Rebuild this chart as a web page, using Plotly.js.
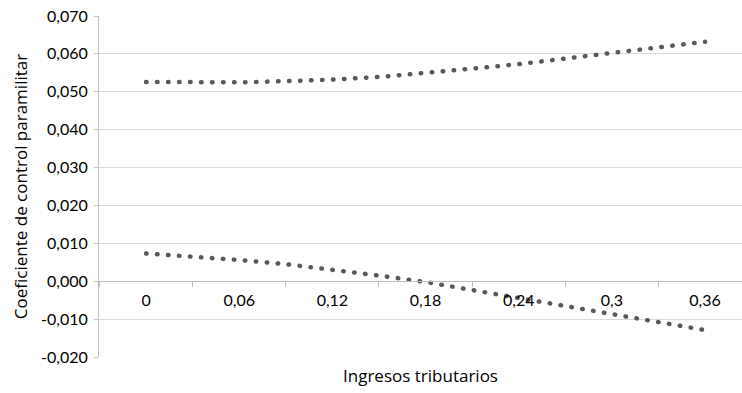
<!DOCTYPE html>
<html>
<head>
<meta charset="utf-8">
<script src="https://cdn.plot.ly/plotly-3.0.1.min.js"></script>
<style>
html, body { margin: 0; padding: 0; background: #fff; }
#chart { width: 742px; height: 393px; }
.scatterlayer .js-line { stroke-linecap: round; }
</style>
</head>
<body>
<div id="chart"></div>
<script>
// Data
const ingresos = [0, 0.03, 0.06, 0.09, 0.12, 0.15, 0.18, 0.21, 0.24, 0.27, 0.30, 0.33, 0.36];
const limiteSuperior = [0.0526, 0.0524, 0.0525, 0.0528, 0.0532, 0.0539, 0.0549, 0.0561, 0.0573, 0.0587, 0.0601, 0.0617, 0.0632];
const limiteInferior = [0.0073, 0.0066, 0.0056, 0.0045, 0.0031, 0.0015, -0.0002, -0.0023, -0.0045, -0.0067, -0.0088, -0.0108, -0.0129];

const xTickVals = [0, 0.06, 0.12, 0.18, 0.24, 0.30, 0.36];
const xTickText = ["0", "0,06", "0,12", "0,18", "0,24", "0,3", "0,36"];
const yTickVals = [-0.02, -0.01, 0, 0.01, 0.02, 0.03, 0.04, 0.05, 0.06, 0.07];
const yTickText = ["-0,020", "-0,010", "0,000", "0,010", "0,020", "0,030", "0,040", "0,050", "0,060", "0,070"];

const FONT = "Lato, 'Open Sans', sans-serif";
const TITLE_FONT = "'Open Sans', Lato, sans-serif";
const lineColor = "#595959";
const dotDash = "0.5px,10.5px";

const xRange = [-0.0303, 0.3838];
const yRange = [-0.02, 0.07];

const traces = [
  { x: ingresos, y: limiteSuperior, type: "scatter", mode: "lines", xaxis: "x", yaxis: "y",
    line: { color: lineColor, width: 4.5, dash: dotDash }, hoverinfo: "skip" },
  { x: ingresos, y: limiteInferior, type: "scatter", mode: "lines", xaxis: "x", yaxis: "y",
    line: { color: lineColor, width: 4.5, dash: dotDash }, hoverinfo: "skip" }
];

const layout = {
  width: 742, height: 393,
  margin: { l: 99, r: 0, t: 16, b: 36 },
  paper_bgcolor: "#fff", plot_bgcolor: "#fff",
  showlegend: false,
  font: { family: FONT, size: 16, color: "#000" },
  xaxis: {
    range: xRange, anchor: "y", showgrid: false, zeroline: false, showline: false,
    showticklabels: false, ticks: "",
    title: { text: "Ingresos tributarios", font: { family: TITLE_FONT, size: 17, color: "#000" }, standoff: 13 }
  },
  xaxis2: {
    range: xRange, overlaying: "x", anchor: "free", position: (0 - yRange[0]) / (yRange[1] - yRange[0]),
    showgrid: false, zeroline: false, showline: true, linecolor: "#bfbfbf", linewidth: 1,
    tickmode: "array", tickvals: xTickVals, ticktext: xTickText, ticks: "",
    tickfont: { family: FONT, size: 16, color: "#000" }, ticklabelstandoff: 5,
    minor: { tickmode: "linear", tick0: 0.03, dtick: 0.06, ticks: "outside", ticklen: 5, tickcolor: "#bfbfbf", tickwidth: 1, showgrid: false }
  },
  yaxis: {
    range: yRange, showgrid: true, gridcolor: "#d9d9d9", gridwidth: 1, zeroline: false,
    showline: true, linecolor: "#bfbfbf", linewidth: 1,
    ticks: "outside", ticklen: 4, tickcolor: "#bfbfbf",
    tickmode: "array", tickvals: yTickVals, ticktext: yTickText,
    tickfont: { family: FONT, size: 16, color: "#000" }, ticklabelstandoff: 3,
    title: { text: "Coeficiente de control paramilitar", font: { family: TITLE_FONT, size: 17, color: "#000" }, standoff: 9 }
  }
};

// Invisible anchor trace so xaxis2 is drawn
traces.push({ x: [xRange[0]], y: [yRange[0]], type: "scatter", mode: "markers", xaxis: "x2", yaxis: "y",
  marker: { opacity: 0 }, hoverinfo: "skip", showlegend: false });

Plotly.newPlot("chart", traces, layout, { staticPlot: true, displayModeBar: false });
</script>
</body>
</html>
